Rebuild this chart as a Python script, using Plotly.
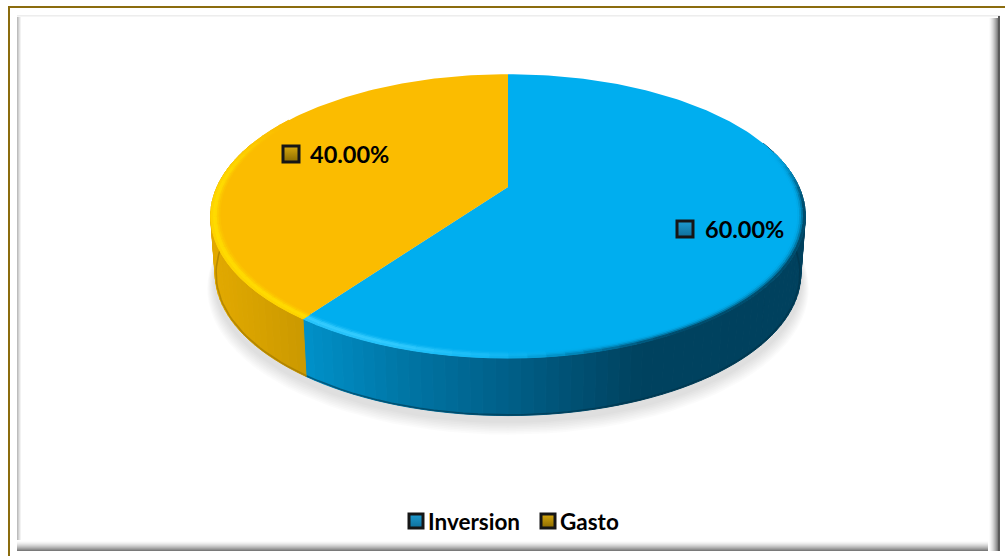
import math
import plotly.graph_objects as go

# ---- data ----
categories = ["Inversion", "Gasto"]
values = [60.0, 40.0]

# ---- styles ----
FACE = ["#00AEEF", "#FBBC00"]
GLOW = ["#35CCFF", "#FFDC00"]
EDGE = ["#00415E", "#C89600"]
SWATCH = [("#1E9BD0", "#0E6F9A"), ("#D8A80E", "#8A6A00")]
LABEL_FONT = dict(family="Lato, Carlito, sans-serif", size=23.5, color="#000000", weight=700)
LEGEND_FONT = dict(family="Lato, Carlito, sans-serif", size=22.5, color="#000000", weight=700)
W, H = 1005, 556
CX, CY, AX, BY, K = 508.0, 187.0, 291.0, 136.0, 0.205
DEPTH, BOTTOM_SCALE = 57.5, 0.985
LABEL_POS = [(685, 229, 705), (291, 154, 310)]
LEGEND_POS = [(416, 428), (548, 560)]
LEGEND_Y = 521


def rgb(c):
    return tuple(int(c[i:i + 2], 16) for i in (1, 3, 5))


def mix(a, b, t):
    t = max(0.0, min(1.0, t))
    ca, cb = rgb(a), rgb(b)
    return "#%02x%02x%02x" % tuple(round(ca[i] + (cb[i] - ca[i]) * t) for i in range(3))


def pt(theta, r=1.0, down=0.0, sx=1.0):
    u, v = r * math.sin(math.radians(theta)), r * math.cos(math.radians(theta))
    w = 1 + K * v
    return CX + sx * AX * u / w, CY - BY * v / w + down


def poly(points, color, line=True, opacity=1.0):
    closed = list(points) + [points[0]]
    xs = [p[0] for p in closed]
    ys = [p[1] for p in closed]
    return go.Scatter(x=xs, y=ys, mode="lines", fill="toself", fillcolor=color,
                      line=dict(color=color, width=1 if line else 0), opacity=opacity,
                      hoverinfo="skip", showlegend=False)


def side_color(i, x):
    if i == 0:
        stops = [(307, "#0090C8"), (400, "#0076A6"), (508, "#005F88"), (640, "#00425F"), (805, "#00415E")]
    else:
        stops = [(212, "#E2A900"), (310, "#C99800")]
    for (x0, c0), (x1, c1) in zip(stops, stops[1:]):
        if x <= x1:
            return mix(c0, c1, (x - x0) / (x1 - x0))
    return stops[-1][1]


def smooth(a, b, x):
    t = max(0.0, min(1.0, (x - a) / (b - a)))
    return t * t * (3 - 2 * t)


def swatch(i, x, y, size, name=None):
    return go.Scatter(
        x=[x], y=[y], mode="markers", hoverinfo="skip", showlegend=False, name=name,
        marker=dict(symbol="square", size=size, color=SWATCH[i][0],
                    line=dict(color="#161616", width=3),
                    gradient=dict(type="vertical", color=SWATCH[i][1])))


total = sum(values)
spans = []
start = 0.0
for val in values:
    spans.append((start, start + 360.0 * val / total))
    start += 360.0 * val / total

fig = go.Figure()

# soft floor shadow
for n in range(8):
    ring = [pt(a, 1.026 - n * 0.003, DEPTH + 13.5 - n, BOTTOM_SCALE) for a in range(0, 361, 3)]
    fig.add_trace(poly(ring, "#000000", line=False, opacity=0.017))

# side wall, drawn in narrow strips to give the shading
STEP = 2.0
for i, (a0, a1) in enumerate(spans):
    a = a0
    while a < a1 - 1e-6:
        b = min(a + STEP, a1)
        # only the front half of the wall can be seen
        if math.cos(math.radians((a + b) / 2)) < 0.35:
            p = [pt(a), pt(b), pt(b, 1, DEPTH, BOTTOM_SCALE), pt(a, 1, DEPTH, BOTTOM_SCALE)]
            fig.add_trace(poly(p, side_color(i, pt((a + b) / 2)[0])))
        a = b

# dark lower edge of the wall
for i, (a0, a1) in enumerate(spans):
    angles = [a0 + (a1 - a0) * n / 90 for n in range(91)]
    angles = [a for a in angles if math.cos(math.radians(a)) < 0.2]
    arc = [pt(a, 0.997, DEPTH, BOTTOM_SCALE) for a in angles]
    fig.add_trace(go.Scatter(x=[q[0] for q in arc], y=[q[1] for q in arc], mode="lines",
                             line=dict(color=mix(EDGE[i], "#000000", 0.25), width=1.6),
                             opacity=0.55, hoverinfo="skip", showlegend=False))

# top face
for i, (a0, a1) in enumerate(spans):
    arc = [pt(a0 + (a1 - a0) * n / 180) for n in range(181)]
    fig.add_trace(poly([pt(0, 0)] + arc, FACE[i], line=False))

# bevelled rim
BANDS = [(0.970, 0.976, 0.18), (0.976, 0.982, 0.5), (0.982, 0.988, 0.9), (0.988, 0.994, 1.0), (0.994, 1.0, 0.75)]
RSTEP = 3.0
for i, (a0, a1) in enumerate(spans):
    a = a0
    while a < a1 - 1e-6:
        b = min(a + RSTEP, a1)
        m = (a + b) / 2
        glow = smooth(165, 205, m) * (1 - smooth(272, 305, m))
        dark = smooth(72, 100, m) * (1 - smooth(150, 185, m))
        if glow > 0.01 or dark > 0.01:
            for n, (r0, r1, w) in enumerate(BANDS):
                c = mix(FACE[i], GLOW[i], glow * w)
                c = mix(c, EDGE[i], dark * [0, 0.05, 0.2, 0.5, 0.9][n])
                p = [pt(a, r0), pt(b, r0), pt(b, r1), pt(a, r1)]
                fig.add_trace(poly(p, c))
        a = b

# data labels and legend: swatch plus text
annotations = []
for i, val in enumerate(values):
    mx, my, tx = LABEL_POS[i]
    fig.add_trace(swatch(i, mx, my, 16))
    annotations.append(dict(x=tx, y=my, xref="x", yref="y", xanchor="left", yanchor="middle",
                            text=f"{val:.2f}%", showarrow=False, font=LABEL_FONT, xshift=-2))

for i, name in enumerate(categories):
    mx, tx = LEGEND_POS[i]
    fig.add_trace(swatch(i, mx, LEGEND_Y, 14, name))
    annotations.append(dict(x=tx, y=LEGEND_Y, xref="x", yref="y", xanchor="left", yanchor="middle",
                            text=name, showarrow=False, font=LEGEND_FONT, xshift=-2))

# chart frame
shapes = []


def rect(x0, y0, x1, y1, color):
    shapes.append(dict(type="rect", xref="x", yref="y", x0=x0, y0=y0, x1=x1, y1=y1,
                       fillcolor=color, line=dict(width=0), layer="below"))


rect(8, 6, 10, 556, "#8B6C0E")
rect(8, 6, 1005, 8, "#8B6C0E")
for n, shade in enumerate(["#BDBDBD", "#CFCFCF", "#E2E2E2", "#F2F2F2"]):
    rect(17 + n, 15, 18 + n, 550, shade)
for n, shade in enumerate(["#EDEDED", "#F5F5F5"]):
    rect(17, 15 + n, 1000, 16 + n, shade)
for n in range(11):
    rect(17, 540 + n, 1000, 541 + n, mix("#FFFFFF", "#7A7A7A", (n / 10) ** 1.6))
for n in range(11):
    rect(988 + n, 18, 989 + n, 551, mix("#FFFFFF", "#6A6A6A", (n / 10) ** 1.6))
rect(998, 16, 1000, 551, "#5A5A5A")

fig.update_layout(
    width=W, height=H, margin=dict(l=0, r=0, t=0, b=0),
    paper_bgcolor="#FFFFFF", plot_bgcolor="#FFFFFF",
    xaxis=dict(range=[0, W], visible=False, fixedrange=True),
    yaxis=dict(range=[H, 0], visible=False, fixedrange=True),
    shapes=shapes, annotations=annotations,
    showlegend=False,
)

fig.write_html("out.html", config={"displayModeBar": False},
               post_script="document.body.style.margin='0';document.documentElement.style.overflow='hidden';")
